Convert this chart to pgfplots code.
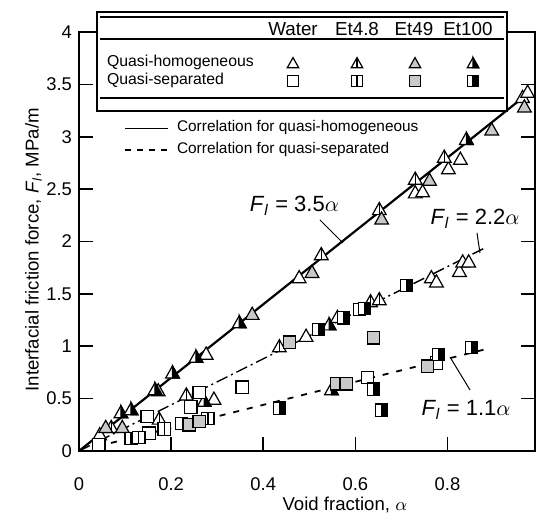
\documentclass[border=0pt]{standalone}
\usepackage{fontspec}
\setmainfont{Liberation Sans}
\usepackage{pgfplots}
\pgfplotsset{compat=1.18}

% triangle / square marks: plain, with a vertical bar, half black
\newcommand\tripath{%
  \pgfpathmoveto{\pgfpoint{0pt}{\pgfplotmarksize}}%
  \pgfpathlineto{\pgfpoint{-0.9\pgfplotmarksize}{-0.6\pgfplotmarksize}}%
  \pgfpathlineto{\pgfpoint{0.9\pgfplotmarksize}{-0.6\pgfplotmarksize}}%
  \pgfpathclose}
\newcommand\sqpath{%
  \pgfpathrectangle{\pgfpoint{-0.85\pgfplotmarksize}{-0.85\pgfplotmarksize}}%
  {\pgfpoint{1.7\pgfplotmarksize}{1.7\pgfplotmarksize}}}
\pgfdeclareplotmark{tri}{\tripath\pgfusepathqfillstroke}
\pgfdeclareplotmark{triv}{\tripath\pgfusepathqfillstroke
  \pgfpathmoveto{\pgfpoint{0pt}{\pgfplotmarksize}}%
  \pgfpathlineto{\pgfpoint{0pt}{-0.6\pgfplotmarksize}}\pgfusepathqstroke}
\pgfdeclareplotmark{trih}{\tripath\pgfusepathqfillstroke
  \begin{pgfscope}%
  \pgfpathmoveto{\pgfpoint{0pt}{\pgfplotmarksize}}%
  \pgfpathlineto{\pgfpoint{0.9\pgfplotmarksize}{-0.6\pgfplotmarksize}}%
  \pgfpathlineto{\pgfpoint{0pt}{-0.6\pgfplotmarksize}}\pgfpathclose
  \pgfsetfillcolor{black}\pgfusepathqfillstroke
  \end{pgfscope}}
\pgfdeclareplotmark{sq}{\sqpath\pgfusepathqfillstroke}
\pgfdeclareplotmark{sqv}{\sqpath\pgfusepathqfillstroke
  \pgfpathmoveto{\pgfpoint{0pt}{0.85\pgfplotmarksize}}%
  \pgfpathlineto{\pgfpoint{0pt}{-0.85\pgfplotmarksize}}\pgfusepathqstroke}
\pgfdeclareplotmark{sqh}{\sqpath\pgfusepathqfillstroke
  \begin{pgfscope}%
  \pgfpathrectangle{\pgfpoint{0pt}{-0.85\pgfplotmarksize}}%
  {\pgfpoint{0.85\pgfplotmarksize}{1.7\pgfplotmarksize}}%
  \pgfsetfillcolor{black}\pgfusepathqfillstroke
  \end{pgfscope}}

\colorlet{dotgray}{gray!42}

\newcommand\lgmark[4]{\begin{scope}[shift={(#1,#2)}]\pgfsetlinewidth{0.6pt}%
  \pgfsetplotmarksize{3.2pt}\pgfsetfillcolor{#4}\pgfuseplotmark{#3}\end{scope}}

\begin{document}
\begin{tikzpicture}
\begin{axis}[
  scale only axis, width=228pt, height=209.5pt,
  xmin=0, xmax=0.99, ymin=0, ymax=4,
  xtick={0,0.2,0.4,0.6,0.8}, ytick={0,0.5,1,1.5,2,2.5,3,3.5,4},
  tick align=inside, major tick length=7pt,
  axis line style={line width=1pt}, tick style={line width=0.8pt, black},
  /pgf/number format/assume math mode=true,
  tick label style={font=\fontsize{9.2}{11}\selectfont},
  xticklabel style={yshift=-10pt},
  every axis x label/.style={at={(axis description cs:0.583,-0.129)},anchor=center},
  every axis y label/.style={at={(axis description cs:-0.10,0.48)},rotate=90,anchor=center},
  label style={font=\fontsize{9.3}{11}\selectfont},
  xlabel={Void fraction, $\alpha$},
  ylabel={Interfacial friction force, \textit{F}\textsubscript{\textit{l}}, MPa/m},
  clip=false,
]
% correlations
\addplot[line width=1.1pt] coordinates {(0,0) (0.965,3.378)};
\addplot[line width=0.7pt, dash pattern=on 6pt off 2pt on 1pt off 2pt] coordinates {(0,0) (0.885,1.947)};
\addplot[line width=0.9pt, dash pattern=on 3pt off 4pt] coordinates {(0.04,0.044) (0.885,0.974)};

% quasi-homogeneous (triangles)
\addplot[only marks, mark=tri, mark size=3.8pt, mark options={fill=white, line width=0.6pt}] coordinates {
(0.045,0.15) (0.276,0.92) (0.293,0.49) (0.478,1.65) (0.493,1.09) (0.730,2.46)
(0.746,2.47) (0.802,2.69) (0.828,2.78) (0.963,3.37) (0.974,3.42) (0.765,1.65)
(0.776,1.61) (0.826,1.71) (0.833,1.80) (0.846,1.80)};
\addplot[only marks, mark=triv, mark size=3.8pt, mark options={fill=white, line width=0.6pt}] coordinates {
(0.070,0.22) (0.174,0.30) (0.233,0.53) (0.435,0.99) (0.526,1.87) (0.561,1.27)
(0.633,1.42) (0.652,1.44) (0.652,2.30) (0.730,2.59) (0.793,2.80)};
\addplot[only marks, mark=tri, mark size=3.8pt, mark options={fill=dotgray, line width=0.6pt}] coordinates {
(0.058,0.22) (0.094,0.22) (0.172,0.57) (0.376,1.30) (0.506,1.70) (0.657,2.21)
(0.761,2.58) (0.896,3.06) (0.967,3.28)};
\addplot[only marks, mark=trih, mark size=3.8pt, mark options={fill=white, line width=0.6pt}] coordinates {
(0.091,0.36) (0.113,0.39) (0.165,0.58) (0.203,0.74) (0.254,0.89) (0.272,0.47)
(0.348,1.22) (0.543,1.20) (0.841,2.97) (0.548,0.58)};

% quasi-separated (squares)
\addplot[only marks, mark=sq, mark size=3.6pt, mark options={fill=white, line width=0.6pt}] coordinates {
(0.043,0.06) (0.152,0.17) (0.148,0.33) (0.222,0.26) (0.243,0.42) (0.261,0.56)
(0.354,0.61) (0.626,0.70) (0.776,0.84)};
\addplot[only marks, mark=sqv, mark size=3.6pt, mark options={fill=white, line width=0.6pt}] coordinates {
(0.113,0.12) (0.130,0.13) (0.185,0.21) (0.280,0.31) (0.609,1.35)};
\addplot[only marks, mark=sq, mark size=3.6pt, mark options={fill=dotgray, line width=0.6pt}] coordinates {
(0.239,0.25) (0.261,0.28) (0.457,1.04) (0.639,1.08) (0.559,0.64) (0.580,0.64) (0.757,0.81)};
\addplot[only marks, mark=sqh, mark size=3.6pt, mark options={fill=white, line width=0.6pt}] coordinates {
(0.435,0.41) (0.520,1.16) (0.574,1.27) (0.620,1.36) (0.711,1.58) (0.639,0.59)
(0.657,0.39) (0.780,0.92) (0.852,0.99)};
\end{axis}

% annotations in image pixel units (origin top left)
\begin{scope}[shift={(current axis.south west)}, xshift=-39.5pt, yshift=225.5pt, x=0.5pt, y=-0.5pt]
\draw[line width=0.8pt, fill=white] (97,12) rectangle (507,111);
\draw[line width=0.6pt] (100,17) -- (504,17) (100,39) -- (504,39) (100,98) -- (504,98);
\begin{scope}[every node/.style={font=\fontsize{9.4}{11}\selectfont}]
\node at (293,29) {Water};
\node at (357,29) {Et4.8};
\node at (414,29) {Et49};
\node at (468,29) {Et100};
\end{scope}
\node[anchor=west, font=\fontsize{7.9}{9}\selectfont] at (100,62) {Quasi-homogeneous};
\node[anchor=west, font=\fontsize{7.9}{9}\selectfont] at (100,80) {Quasi-separated};
\lgmark{293}{64}{tri}{white}
\lgmark{357}{64}{triv}{white}
\lgmark{415}{64}{tri}{dotgray}
\lgmark{473}{64}{trih}{white}
\lgmark{293}{81}{sq}{white}
\lgmark{357}{81}{sqv}{white}
\lgmark{415}{81}{sq}{dotgray}
\lgmark{473}{81}{sqh}{white}

\draw[line width=0.4pt] (125,128) -- (168,128);
\node[anchor=west, font=\fontsize{7.7}{9}\selectfont] at (170,128) {Correlation for quasi-homogeneous};
\draw[line width=0.9pt, dash pattern=on 3pt off 3pt] (125,150) -- (170,150);
\node[anchor=west, font=\fontsize{7.7}{9}\selectfont] at (170,150) {Correlation for quasi-separated};

\begin{scope}[every node/.style={font=\fontsize{11}{13}\selectfont}]
\node[anchor=east] at (346,206) {\textit{F}\textsubscript{\textit{l}} = 3.5$\alpha$};
\node at (475,219) {\textit{F}\textsubscript{\textit{l}} = 2.2$\alpha$};
\node at (466,410) {\textit{F}\textsubscript{\textit{l}} = 1.1$\alpha$};
\end{scope}
\draw[line width=0.5pt] (320,220) -- (343,243) (477,233) -- (480,253) (470,390) -- (450,357);

\pgfresetboundingbox
\path[use as bounding box] (0,0) rectangle (536,517);
\end{scope}
\end{tikzpicture}
\end{document}
